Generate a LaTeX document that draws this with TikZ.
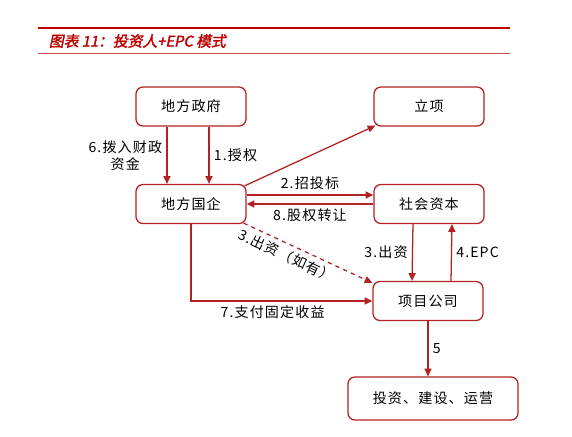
\documentclass[tikz,border=0pt]{standalone}
\usepackage{fontspec}
\usepackage{xcolor}
\usetikzlibrary{arrows.meta}
\setmainfont{Noto Sans CJK SC}[LetterSpace=8]
\newfontfamily\titlefont{Noto Sans CJK SC}[FakeSlant=0.2,FakeBold=2]
\definecolor{boxred}{RGB}{178,34,34}
\definecolor{titlered}{RGB}{192,0,0}

\begin{document}
\begin{tikzpicture}[x=0.025cm,y=-0.025cm,>={Triangle[length=5.5pt,width=5pt]},
  main node/.style={draw=boxred,rounded corners=5pt,line width=0.9pt,minimum width=2.75cm,minimum height=0.975cm,font=\fontsize{10}{12}\selectfont},
  flow/.style={->,draw=boxred,line width=0.9pt},
  lbl/.style={font=\fontsize{10}{12}\selectfont,inner sep=3pt}]

    \useasboundingbox (0,0) rectangle (572,436);

    % title
    \draw[titlered,line width=1.5pt] (38,28) -- (510,28);
    \draw[titlered!70,line width=0.5pt] (38,53) -- (510,53);
    \node[anchor=west,text=titlered,font=\titlefont\fontsize{10.5}{12}\selectfont] (title) at (44,41) {图表 11：投资人+EPC 模式};

    % boxes
    \node[main node] (gov) at (191,106.5) {地方政府};
    \node[main node] (lixiang) at (429,106.5) {立项};
    \node[main node] (soe) at (191,204) {地方国企};
    \node[main node] (capital) at (429,204) {社会资本};
    \node[main node] (spv) at (428,301) {项目公司};
    \node[main node,minimum width=4.25cm,minimum height=1.075cm] (ops) at (433,398.5) {投资、建设、运营};

    % arrows
    \draw[flow] ([xshift=-0.6cm]gov.south) -- node[lbl,left,align=center]{6.拨入财政\\资金} ([xshift=-0.6cm]soe.north);
    \draw[flow] ([xshift=0.45cm]gov.south) -- node[lbl,right]{1.授权} ([xshift=0.45cm]soe.north);
    \draw[flow] ([shift={(-2,2)}]soe.north east) -- ([shift={(2,-1)}]lixiang.south west);
    \draw[flow] ([yshift=0.225cm]soe.east) -- node[lbl,above]{2.招投标} ([yshift=0.225cm]capital.west);
    \draw[flow] (capital.west) -- node[lbl,below]{8.股权转让} (soe.east);
    \draw[flow,dashed] ([shift={(-3,-1)}]soe.south east) -- node[lbl,sloped,below,pos=0.37]{3.出资（如有）} ([yshift=-0.05cm]spv.north west);
    \draw[flow] (soe.south) |- node[lbl,below,pos=0.725]{7.支付固定收益} (spv.west);
    \draw[flow] ([xshift=-0.4cm]capital.south) -- node[lbl,left]{3.出资} ([xshift=-0.4cm]spv.north);
    \draw[flow] ([xshift=0.575cm]spv.north) -- node[lbl,right]{4.EPC} ([xshift=0.575cm]capital.south);
    \draw[flow] (spv.south) -- node[lbl,right]{5} (spv.south |- ops.north);

\end{tikzpicture}
\end{document}
